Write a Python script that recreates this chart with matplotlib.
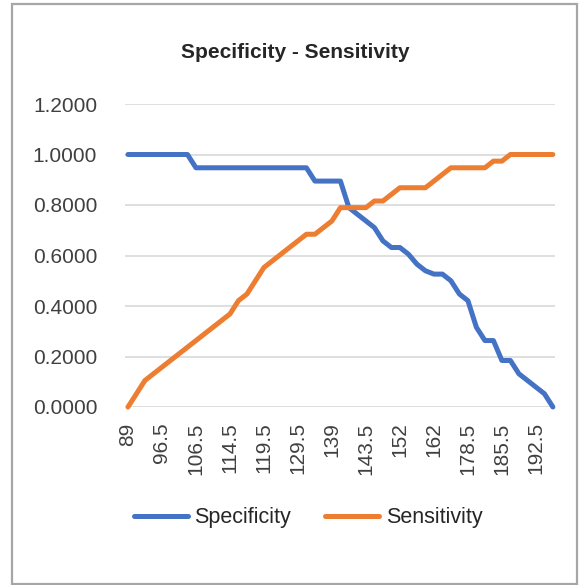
import matplotlib.pyplot as plt
from matplotlib.patches import Rectangle

plt.rcParams['font.family'] = ['Liberation Sans', 'DejaVu Sans']

# cut-off values (only every 4th one is labelled on the axis)
cutoffs = [89, 90.5, 92.5, 94.5, 96.5, 99, 101.5, 104, 106.5, 108.5,
           110.5, 112.5, 114.5, 115.5, 117, 118.5, 119.5, 121.5, 124, 127,
           129.5, 131.5, 134, 136.5, 139, 140, 141, 142.5, 143.5, 145.5,
           147.5, 150, 152, 154.5, 157, 159.5, 162, 166, 170.5, 175,
           178.5, 180.5, 182.5, 184, 185.5, 187, 189, 191, 192.5, 195, 198]

specificity = [1.0, 1.0, 1.0, 1.0, 1.0, 1.0, 1.0, 1.0,
               0.9474, 0.9474, 0.9474, 0.9474, 0.9474, 0.9474, 0.9474,
               0.9474, 0.9474, 0.9474, 0.9474, 0.9474, 0.9474, 0.9474,
               0.8947, 0.8947, 0.8947, 0.8947,
               0.7895, 0.7632, 0.7368, 0.7105, 0.6579, 0.6316, 0.6316,
               0.6053, 0.5658, 0.5395, 0.5263, 0.5263, 0.5000, 0.4474,
               0.4211, 0.3158, 0.2632, 0.2632, 0.1842, 0.1842, 0.1316,
               0.1053, 0.0789, 0.0526, 0.0]

sensitivity = [0.0, 0.0526, 0.1053, 0.1316, 0.1579, 0.1842, 0.2105, 0.2368,
               0.2632, 0.2895, 0.3158, 0.3421, 0.3684, 0.4211, 0.4474,
               0.5000, 0.5526, 0.5789, 0.6053, 0.6316, 0.6579, 0.6842,
               0.6842, 0.7105, 0.7368, 0.7895, 0.7895, 0.7895, 0.7895,
               0.8158, 0.8158, 0.8421, 0.8684, 0.8684, 0.8684, 0.8684,
               0.8947, 0.9211, 0.9474, 0.9474, 0.9474, 0.9474, 0.9474,
               0.9737, 0.9737, 1.0, 1.0, 1.0, 1.0, 1.0, 1.0]

W, H = 579, 585
fig = plt.figure(figsize=(W / 100, H / 100), dpi=100)
ax = fig.add_axes([125 / W, (H - 407) / H, 430 / W, 303 / H])

xs = list(range(len(cutoffs)))
ax.plot(xs, specificity, color='#4472C4', lw=3.6, label='Specificity',
        solid_joinstyle='round', solid_capstyle='round', clip_on=False, zorder=3)
ax.plot(xs, sensitivity, color='#ED7D31', lw=3.6, label='Sensitivity',
        solid_joinstyle='round', solid_capstyle='round', clip_on=False, zorder=3)

ax.set_xlim(-0.35, len(cutoffs) - 1 + 0.25)
ax.set_ylim(0, 1.2)
ax.set_yticks([0, 0.2, 0.4, 0.6, 0.8, 1.0, 1.2])
ax.set_yticklabels(['%.4f' % v for v in ax.get_yticks()])
ax.set_xticks(xs[::4])
ax.set_xticklabels(['%g' % c for c in cutoffs[::4]], rotation=90)
ax.tick_params(axis='y', length=0, pad=20, labelsize=15, labelcolor='#404040')
ax.tick_params(axis='x', length=0, pad=11, labelsize=15, labelcolor='#404040')
ax.grid(axis='y', color='#d9d9d9', lw=1.2)
ax.set_axisbelow(True)
for s in ax.spines.values():
    s.set_visible(False)

fig.text(295 / W, 1 - 52 / H, 'Specificity - Sensitivity', ha='center',
         va='center', fontsize=15, fontweight='bold', color='#262626')

leg = fig.legend(loc='center', bbox_to_anchor=(308 / W, 1 - 518 / H), ncol=2,
                 frameon=False, fontsize=15.5, handlelength=2.5,
                 handletextpad=0.3, columnspacing=1.6)
for t in leg.get_texts():
    t.set_color('#262626')

# chart frame
fig.patches.append(Rectangle((12 / W, 1 / H), 565 / W, 580 / H, fill=False,
                             edgecolor='#a6a6a6', lw=1.6,
                             transform=fig.transFigure))

fig.savefig('out.png', dpi=100)
